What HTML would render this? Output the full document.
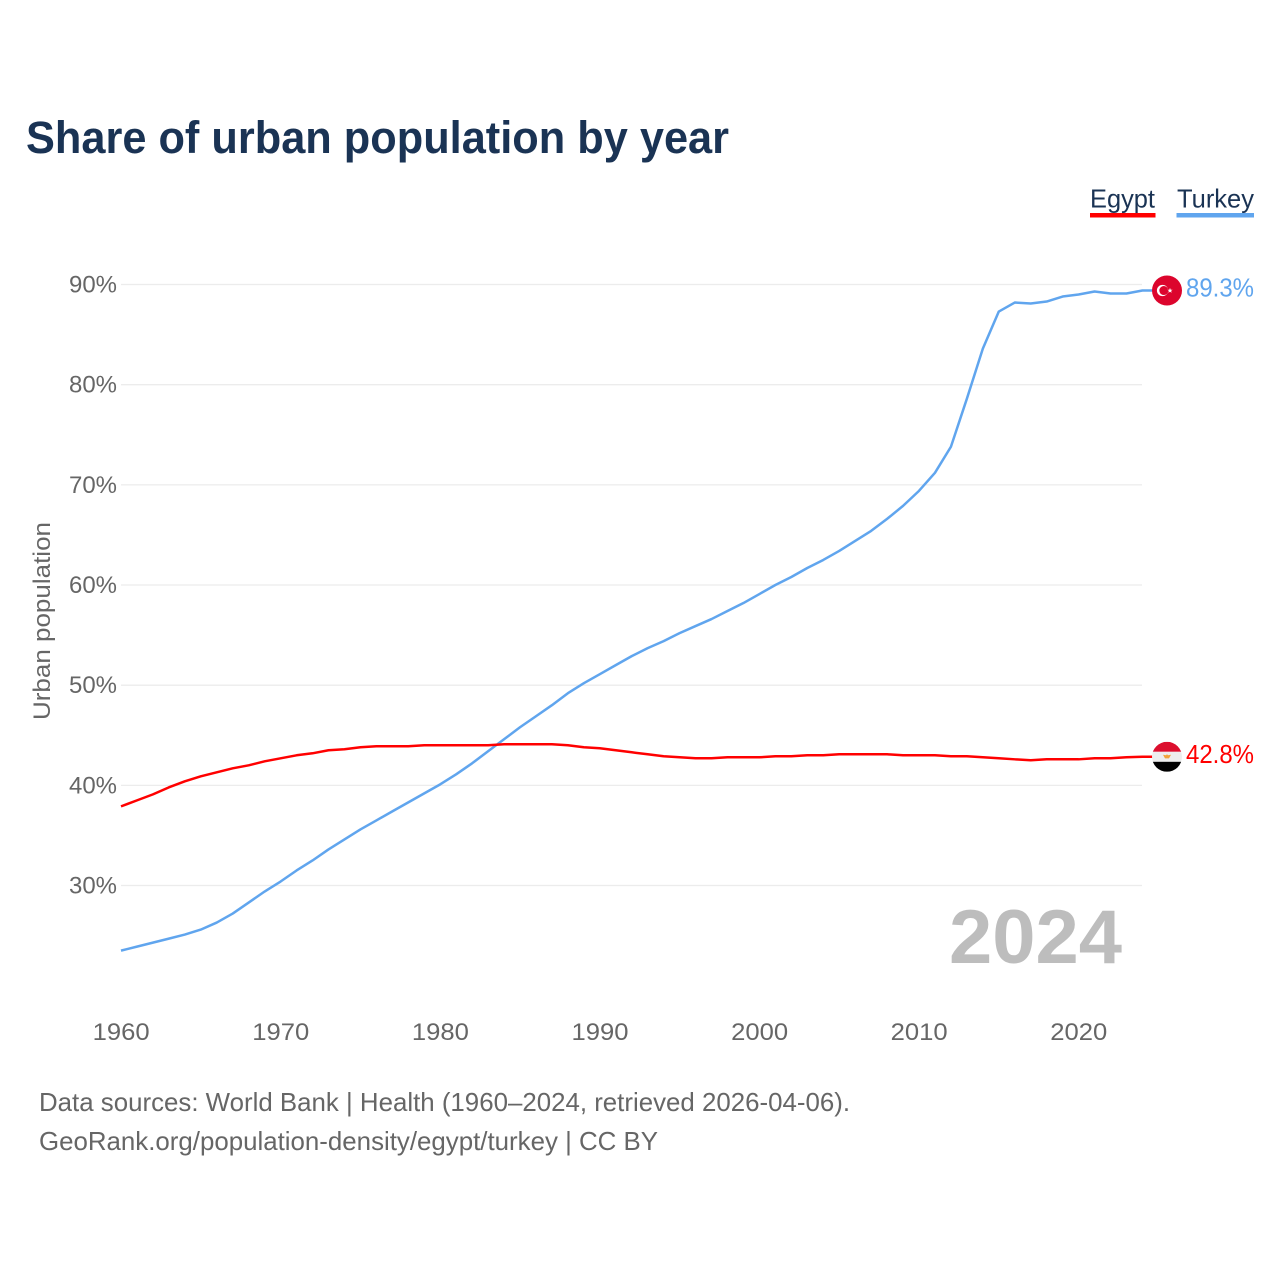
<!DOCTYPE html>
<html lang="en">
<head>
<meta charset="utf-8">
<title>Share of urban population by year</title>
<style>
html,body{margin:0;padding:0;background:#fff;}
svg{display:block;font-family:"Liberation Sans",sans-serif;}
</style>
</head>
<body>
<svg id="chart" xmlns="http://www.w3.org/2000/svg" width="1280" height="1280" viewBox="0 0 1280 1280">
  <rect width="1280" height="1280" fill="#fff"/>
  <text x="26" y="153" font-size="45" font-weight="700" fill="#1a3354" textLength="703" lengthAdjust="spacingAndGlyphs">Share of urban population by year</text>

  <g id="grid"></g>
  <g id="yticks"></g>
  <g id="xticks"></g>

  <text transform="translate(50,720) rotate(-90)" font-size="24" fill="#666" textLength="198" lengthAdjust="spacingAndGlyphs">Urban population</text>

  <text x="949" y="963" font-size="76" font-weight="700" fill="#bdbdbd" textLength="173" lengthAdjust="spacingAndGlyphs">2024</text>

  <path id="line-turkey" fill="none" stroke="#60a5ee" stroke-width="2.5" stroke-linejoin="round"/>
  <path id="line-egypt" fill="none" stroke="#ff0000" stroke-width="2.5" stroke-linejoin="round"/>

  <g id="legend">
    <g>
      <text x="1090" y="207.5" font-size="26" fill="#1a3354" textLength="65" lengthAdjust="spacingAndGlyphs">Egypt</text>
      <rect x="1090" y="213" width="65.5" height="4.5" fill="#ff0000"/>
    </g>
    <g>
      <text x="1177" y="207.5" font-size="26" fill="#1a3354" textLength="77" lengthAdjust="spacingAndGlyphs">Turkey</text>
      <rect x="1176.5" y="213" width="77.5" height="4.5" fill="#60a5ee"/>
    </g>
  </g>

  <defs>
    <clipPath id="clip-eg"><circle cx="0" cy="0" r="15"/></clipPath>
  </defs>
  <g id="flag-turkey">
    <circle cx="0" cy="0" r="15" fill="#dc052d"/>
    <circle cx="-4.5" cy="0" r="5.6" fill="#fff"/>
    <circle cx="-3.2" cy="0" r="4.5" fill="#dc052d"/>
    <polygon points="3,-2.6 3.7,-0.8 5.6,-0.8 4.1,0.4 4.7,2.3 3,1.2 1.3,2.3 1.9,0.4 0.4,-0.8 2.3,-0.8" fill="#fff"/>
  </g>
  <g id="flag-egypt" clip-path="url(#clip-eg)">
    <rect x="-15" y="-15" width="30" height="10" fill="#dc0f2e"/>
    <rect x="-15" y="-5" width="30" height="10" fill="#eeeeee"/>
    <rect x="-15" y="5" width="30" height="10" fill="#000"/>
    <path d="M-4,-2 L-1,-1.5 L0,-2.6 L1,-1.5 L4,-2 L2,1.6 L-2,1.6 Z" fill="#f2a33a"/>
  </g>

  <text id="label-turkey" x="1186" y="297" font-size="25.5" fill="#60a5ee" textLength="68" lengthAdjust="spacingAndGlyphs"></text>
  <text id="label-egypt" x="1186" y="763" font-size="25.5" fill="#ff0000" textLength="68" lengthAdjust="spacingAndGlyphs"></text>

  <text x="39" y="1111" font-size="26" fill="#666" textLength="811" lengthAdjust="spacingAndGlyphs">Data sources: World Bank | Health (1960–2024, retrieved 2026-04-06).</text>
  <text x="39" y="1150" font-size="26" fill="#666" textLength="619" lengthAdjust="spacingAndGlyphs">GeoRank.org/population-density/egypt/turkey | CC BY</text>
</svg>
<script>
const startYear = 1960;
const yTickValues = [30, 40, 50, 60, 70, 80, 90];
const xTickValues = [1960, 1970, 1980, 1990, 2000, 2010, 2020];
const turkeyValues = [23.5,23.9,24.3,24.7,25.1,25.6,26.3,27.2,28.3,29.4,30.4,31.5,32.5,33.6,34.6,35.6,36.5,37.4,38.3,39.2,40.1,41.1,42.2,43.4,44.6,45.8,46.9,48.0,49.2,50.2,51.1,52.0,52.9,53.7,54.4,55.2,55.9,56.6,57.4,58.2,59.1,60.0,60.8,61.7,62.5,63.4,64.4,65.4,66.6,67.9,69.4,71.2,73.8,78.6,83.6,87.3,88.2,88.1,88.3,88.8,89.0,89.3,89.1,89.1,89.4];
const egyptValues = [37.9,38.5,39.1,39.8,40.4,40.9,41.3,41.7,42.0,42.4,42.7,43.0,43.2,43.5,43.6,43.8,43.9,43.9,43.9,44.0,44.0,44.0,44.0,44.0,44.1,44.1,44.1,44.1,44.0,43.8,43.7,43.5,43.3,43.1,42.9,42.8,42.7,42.7,42.8,42.8,42.8,42.9,42.9,43.0,43.0,43.1,43.1,43.1,43.1,43.0,43.0,43.0,42.9,42.9,42.8,42.7,42.6,42.5,42.6,42.6,42.6,42.7,42.7,42.8,42.85];
const turkeyEndLabel = "89.3%";
const egyptEndLabel = "42.8%";

const NS = "http://www.w3.org/2000/svg";
function xScale(year) { return 121 + (year - 1960) * 15.96; }
function yScale(v) { return 284.5 + (90 - v) * 10.017; }

const grid = document.getElementById("grid");
const yticks = document.getElementById("yticks");
yTickValues.forEach(function (v) {
  const ln = document.createElementNS(NS, "line");
  
  
  ln.setAttribute("x1", 121);
  ln.setAttribute("x2", 1142);
  ln.setAttribute("y1", yScale(v));
  ln.setAttribute("y2", yScale(v));
  ln.setAttribute("stroke", "#ececec");
  ln.setAttribute("stroke-width", "1.3");
  grid.appendChild(ln);

  const t = document.createElementNS(NS, "text");
  
  
  t.setAttribute("x", 69);
  t.setAttribute("y", yScale(v) + 8);
  t.setAttribute("font-size", "24.5");
  t.setAttribute("fill", "#666");
  t.setAttribute("textLength", "48");
  t.setAttribute("lengthAdjust", "spacingAndGlyphs");
  t.textContent = v + "%";
  yticks.appendChild(t);
});

const xticks = document.getElementById("xticks");
xTickValues.forEach(function (yr) {
  const t = document.createElementNS(NS, "text");
  
  
  t.setAttribute("x", xScale(yr) - 28.3);
  t.setAttribute("y", 1040);
  t.setAttribute("font-size", "24.5");
  t.setAttribute("fill", "#666");
  t.setAttribute("textLength", "57");
  t.setAttribute("lengthAdjust", "spacingAndGlyphs");
  t.textContent = yr;
  xticks.appendChild(t);
});

function linePath(values) {
  let d = "";
  values.forEach(function (v, i) {
    d += (i ? "L" : "M") + xScale(startYear + i).toFixed(2) + " " + yScale(v).toFixed(2);
  });
  d += "L1153 " + yScale(values[values.length - 1]).toFixed(2);
  return d;
}
document.getElementById("line-turkey").setAttribute("d", linePath(turkeyValues));
document.getElementById("line-egypt").setAttribute("d", linePath(egyptValues));

const turkeyEnd = yScale(turkeyValues[turkeyValues.length - 1]);
const egyptEnd = yScale(egyptValues[egyptValues.length - 1]);
document.getElementById("flag-turkey").setAttribute("transform", "translate(1167," + turkeyEnd + ")");
document.getElementById("flag-egypt").setAttribute("transform", "translate(1167," + egyptEnd + ")");
const labelTurkey = document.getElementById("label-turkey");
const labelEgypt = document.getElementById("label-egypt");
labelTurkey.textContent = turkeyEndLabel;
labelTurkey.setAttribute("y", turkeyEnd + 6);
labelEgypt.textContent = egyptEndLabel;
labelEgypt.setAttribute("y", egyptEnd + 6);
</script>
</body>
</html>
